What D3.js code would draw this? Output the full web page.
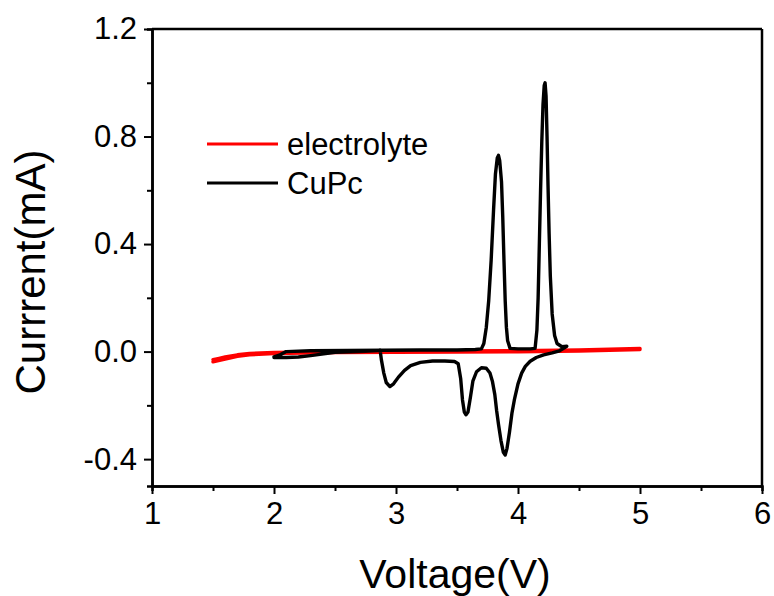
<!DOCTYPE html>
<html>
<head>
<meta charset="utf-8">
<script src="https://cdn.jsdelivr.net/npm/d3@7"></script>
<style>
  body { margin: 0; background: #fff; }
  text { font-family: "Liberation Sans", Arial, sans-serif; fill: #000; }
</style>
</head>
<body>
<svg id="chart" width="774" height="596"></svg>
<script>
// ---------- data ----------
const seriesNames = ["electrolyte", "CuPc"];
const seriesColors = ["#ff0000", "#000000"];

// electrolyte CV loop: voltage (V) and current (mA)
const electrolyteV = [1.50,1.55,1.60,1.70,1.80,2.00,2.50,3.00,3.50,4.00,4.50,5.00,
                      5.00,4.50,4.00,3.50,3.00,2.50,2.00,1.80,1.70,1.60,1.50];
const electrolyteI = [-0.030,-0.025,-0.020,-0.012,-0.007,-0.003,0.000,0.001,0.002,0.003,0.006,0.012,
                      0.008,0.002,-0.001,-0.002,-0.003,-0.004,-0.007,-0.012,-0.018,-0.028,-0.038];

// CuPc CV loop: anodic sweep 2.0 -> 4.4 V, then cathodic sweep 4.4 -> 2.0 V
const cupcV = [
  2.00,2.05,2.10,2.30,2.60,2.90,3.20,3.50,3.65,3.70,3.72,3.74,3.76,3.78,3.80,3.815,3.83,3.84,3.85,3.865,3.875,3.885,3.895,3.905,3.915,3.935,4.00,4.10,
  4.14,4.155,4.165,4.175,4.185,4.195,4.205,4.215,4.222,4.230,4.238,4.246,4.255,4.265,4.28,4.30,4.32,4.36,4.40,
  4.34,4.28,4.21,4.15,4.10,4.06,4.03,4.00,3.97,3.95,3.93,3.91,3.895,3.88,3.86,3.84,3.825,3.81,3.79,3.77,3.74,3.70,
  3.66,3.63,3.61,3.59,3.574,3.56,3.545,3.53,3.51,3.48,3.40,3.30,3.20,3.12,3.07,3.02,2.98,2.95,2.92,2.90,
  2.88,2.87,2.85,2.70,2.50,2.30,2.20,2.10,2.00
];
const cupcI = [
  -0.020,-0.012,0.000,0.003,0.004,0.005,0.006,0.006,0.008,0.010,0.030,0.090,0.190,0.340,0.530,0.660,0.720,0.730,0.710,0.630,0.500,0.340,0.190,0.090,0.040,0.012,0.010,0.010,
  0.012,0.080,0.200,0.400,0.600,0.780,0.920,0.990,1.000,0.950,0.800,0.620,0.440,0.280,0.140,0.060,0.030,0.018,0.020,
  0.003,-0.005,-0.012,-0.022,-0.036,-0.055,-0.080,-0.120,-0.180,-0.230,-0.300,-0.360,-0.385,-0.375,-0.330,-0.270,-0.220,-0.160,-0.110,-0.080,-0.062,-0.060,
  -0.075,-0.110,-0.170,-0.225,-0.235,-0.225,-0.180,-0.100,-0.045,-0.037,-0.035,-0.035,-0.040,-0.052,-0.070,-0.095,-0.120,-0.130,-0.115,-0.080,
  -0.030,0.005,0.003,0.000,-0.003,-0.015,-0.020,-0.022,-0.022
];

const xMajorTicks = [1,2,3,4,5,6];
const xMinorTicks = [1.5,2.5,3.5,4.5,5.5];
const yMajorTicks = [-0.4,0.0,0.4,0.8,1.2];
const yMinorTicks = [-0.2,0.2,0.6,1.0];
const xTitle = "Voltage(V)";
const yTitle = "Currrent(mA)";

// ---------- layout ----------
const svg = d3.select("#chart");
const L = 152, R = 762, T = 29, B = 486;
const x = d3.scaleLinear().domain([1, 6]).range([L, R]);
const y = d3.scaleLinear().domain([-0.5, 1.2]).range([B, T]);

// data lines
const line = d3.line().x(d => x(d[0])).y(d => y(d[1])).curve(d3.curveLinear);
const seriesData = [
  d3.zip(electrolyteV, electrolyteI),
  d3.zip(cupcV, cupcI)
];
seriesData.forEach((pts, i) => {
  svg.append("path")
    .datum(pts)
    .attr("d", line)
    .attr("fill", "none")
    .attr("stroke", seriesColors[i])
    .attr("stroke-width", 3.4)
    .attr("stroke-linejoin", "round")
    .attr("stroke-linecap", "round");
});

// frame (top & right)
svg.append("line").attr("x1", L).attr("x2", R).attr("y1", T).attr("y2", T)
  .attr("stroke", "#000").attr("stroke-width", 2.5);
svg.append("line").attr("x1", R).attr("x2", R).attr("y1", T).attr("y2", B)
  .attr("stroke", "#000").attr("stroke-width", 2.5);

// axes
function styleAxis(g) {
  g.select(".domain").attr("stroke", "#000").attr("stroke-width", 2.5);
  g.selectAll(".tick line").attr("stroke", "#000").attr("stroke-width", 2);
  g.selectAll(".tick text").style("font-family", "'Liberation Sans', Arial, sans-serif")
    .style("font-size", "31px").attr("fill", "#000");
}
const fmt = d => d.toFixed(1);

const xMinor = svg.append("g").attr("transform", `translate(0,${B})`)
  .call(d3.axisBottom(x).tickValues(xMinorTicks).tickSize(5).tickFormat(""));
styleAxis(xMinor);
const xAxis = svg.append("g").attr("transform", `translate(0,${B})`)
  .call(d3.axisBottom(x).tickValues(xMajorTicks).tickSize(8).tickSizeOuter(0).tickPadding(8).tickFormat(d3.format("d")));
styleAxis(xAxis);

const yMinor = svg.append("g").attr("transform", `translate(${L},0)`)
  .call(d3.axisLeft(y).tickValues(yMinorTicks).tickSize(5).tickFormat(""));
styleAxis(yMinor);
const yAxis = svg.append("g").attr("transform", `translate(${L},0)`)
  .call(d3.axisLeft(y).tickValues(yMajorTicks).tickSize(8).tickSizeOuter(0).tickPadding(7).tickFormat(fmt));
styleAxis(yAxis);

// titles
svg.append("text").attr("x", 455).attr("y", 588).attr("text-anchor", "middle")
  .style("font-size", "41px").text(xTitle);
svg.append("text").attr("transform", "translate(45,272) rotate(-90)").attr("text-anchor", "middle")
  .style("font-size", "42px").text(yTitle);

// legend
const legY = [144, 183];
seriesNames.forEach((name, i) => {
  svg.append("line").attr("x1", 207).attr("x2", 278).attr("y1", legY[i]).attr("y2", legY[i])
    .attr("stroke", seriesColors[i]).attr("stroke-width", 3);
  svg.append("text").attr("x", 287).attr("y", legY[i] + 11)
    .style("font-size", "31px").text(name);
});
</script>
</body>
</html>
